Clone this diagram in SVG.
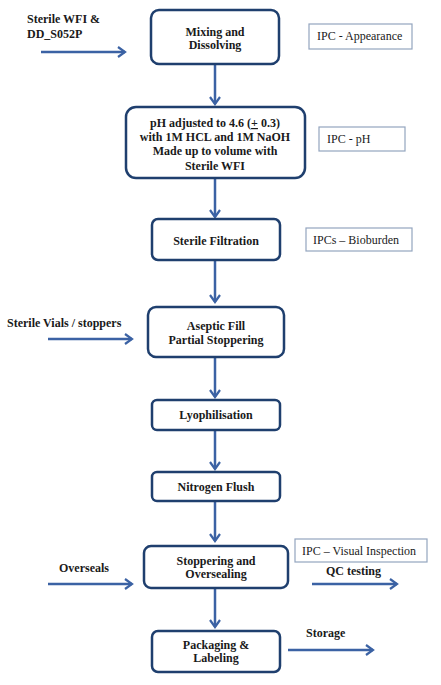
<svg xmlns="http://www.w3.org/2000/svg" width="441" height="685" viewBox="0 0 441 685">
<defs>
<marker id="ah" viewBox="0 0 12 12" refX="10" refY="6" markerWidth="12" markerHeight="12" markerUnits="userSpaceOnUse" orient="auto">
<polyline points="3,1 10,6 3,11" fill="none" stroke="#3b62a4" stroke-width="2.2"/>
</marker>
<style>
.box{fill:#fff;stroke:#1f3f6e;stroke-width:2.5}
.ipc{fill:#fff;stroke:#93a5bf;stroke-width:1.2}
.t{font-family:"Liberation Serif","Times New Roman",serif;font-size:12px;font-weight:bold;fill:#1a1a1a;text-anchor:middle}
.tl{font-family:"Liberation Serif","Times New Roman",serif;font-size:12px;font-weight:bold;fill:#1a1a1a}
.r{font-family:"Liberation Serif","Times New Roman",serif;font-size:12px;fill:#1a1a1a}
.a{stroke:#3b62a4;stroke-width:2.5;fill:none;marker-end:url(#ah)}
</style>
</defs>
<rect width="441" height="685" fill="#fff"/>
<g id="connectors">
<line class="a" x1="41" y1="52" x2="125" y2="52"/>
<line class="a" x1="215" y1="65" x2="215" y2="104"/>
<line class="a" x1="215" y1="179" x2="215" y2="217"/>
<line class="a" x1="215" y1="261" x2="215" y2="302"/>
<line class="a" x1="48" y1="339" x2="132" y2="339"/>
<line class="a" x1="215" y1="358" x2="215" y2="397"/>
<line class="a" x1="215" y1="431" x2="215" y2="469"/>
<line class="a" x1="215" y1="502" x2="215" y2="541"/>
<line class="a" x1="48" y1="584" x2="132" y2="584"/>
<line class="a" x1="312" y1="584" x2="397" y2="584"/>
<line class="a" x1="215" y1="589" x2="215" y2="627"/>
<line class="a" x1="288" y1="650" x2="373" y2="650"/>
</g>
<g id="label-wfi">
<text class="tl" x="27" y="23">Sterile WFI &amp;</text>
<text class="tl" x="27" y="38">DD_S052P</text>
</g>
<g id="mixing">
<rect class="box" x="151" y="10" width="128" height="54" rx="8"/>
<text class="t" x="215" y="36">Mixing and</text>
<text class="t" x="215" y="49">Dissolving</text>
</g>
<g id="ipc-appearance">
<rect class="ipc" x="309" y="24" width="103" height="25"/>
<text class="r" x="317" y="40">IPC - Appearance</text>
</g>
<g id="ph">
<rect class="box" x="126" y="107" width="179" height="71" rx="10"/>
<text class="t" x="215" y="127">pH adjusted to 4.6 (<tspan text-decoration="underline">+</tspan> 0.3)</text>
<text class="t" x="215" y="141">with 1M HCL and 1M NaOH</text>
<text class="t" x="215" y="155">Made up to volume with</text>
<text class="t" x="215" y="170">Sterile WFI</text>
</g>
<g id="ipc-ph">
<rect class="ipc" x="319" y="127" width="86" height="24"/>
<text class="r" x="327" y="143">IPC - pH</text>
</g>
<g id="filtration">
<rect class="box" x="152" y="219" width="128" height="41" rx="6"/>
<text class="t" x="216" y="245">Sterile Filtration</text>
</g>
<g id="ipc-bioburden">
<rect class="ipc" x="306" y="228" width="106" height="23"/>
<text class="r" x="313" y="244">IPCs – Bioburden</text>
</g>
<g id="label-vials">
<text class="tl" x="7" y="327">Sterile Vials / stoppers</text>
</g>
<g id="aseptic">
<rect class="box" x="148" y="307" width="136" height="50" rx="8"/>
<text class="t" x="216" y="330">Aseptic Fill</text>
<text class="t" x="216" y="344">Partial Stoppering</text>
</g>
<g id="lyophilisation">
<rect class="box" x="152" y="400" width="128" height="30" rx="5"/>
<text class="t" x="216" y="419">Lyophilisation</text>
</g>
<g id="nitrogen">
<rect class="box" x="152" y="472" width="128" height="29" rx="5"/>
<text class="t" x="216" y="491">Nitrogen Flush</text>
</g>
<g id="label-overseals">
<text class="tl" x="59" y="572">Overseals</text>
</g>
<g id="stoppering">
<rect class="box" x="144" y="546" width="144" height="42" rx="7"/>
<text class="t" x="216" y="565">Stoppering and</text>
<text class="t" x="216" y="578">Oversealing</text>
</g>
<g id="ipc-visual">
<rect class="ipc" x="295" y="539" width="132" height="23"/>
<text class="r" x="302" y="555">IPC – Visual Inspection</text>
</g>
<g id="label-qc">
<text class="tl" x="326" y="575">QC testing</text>
</g>
<g id="packaging">
<rect class="box" x="152" y="631" width="128" height="41" rx="6"/>
<text class="t" x="216" y="649">Packaging &amp;</text>
<text class="t" x="216" y="662">Labeling</text>
</g>
<g id="label-storage">
<text class="tl" x="306" y="637">Storage</text>
</g>
</svg>
